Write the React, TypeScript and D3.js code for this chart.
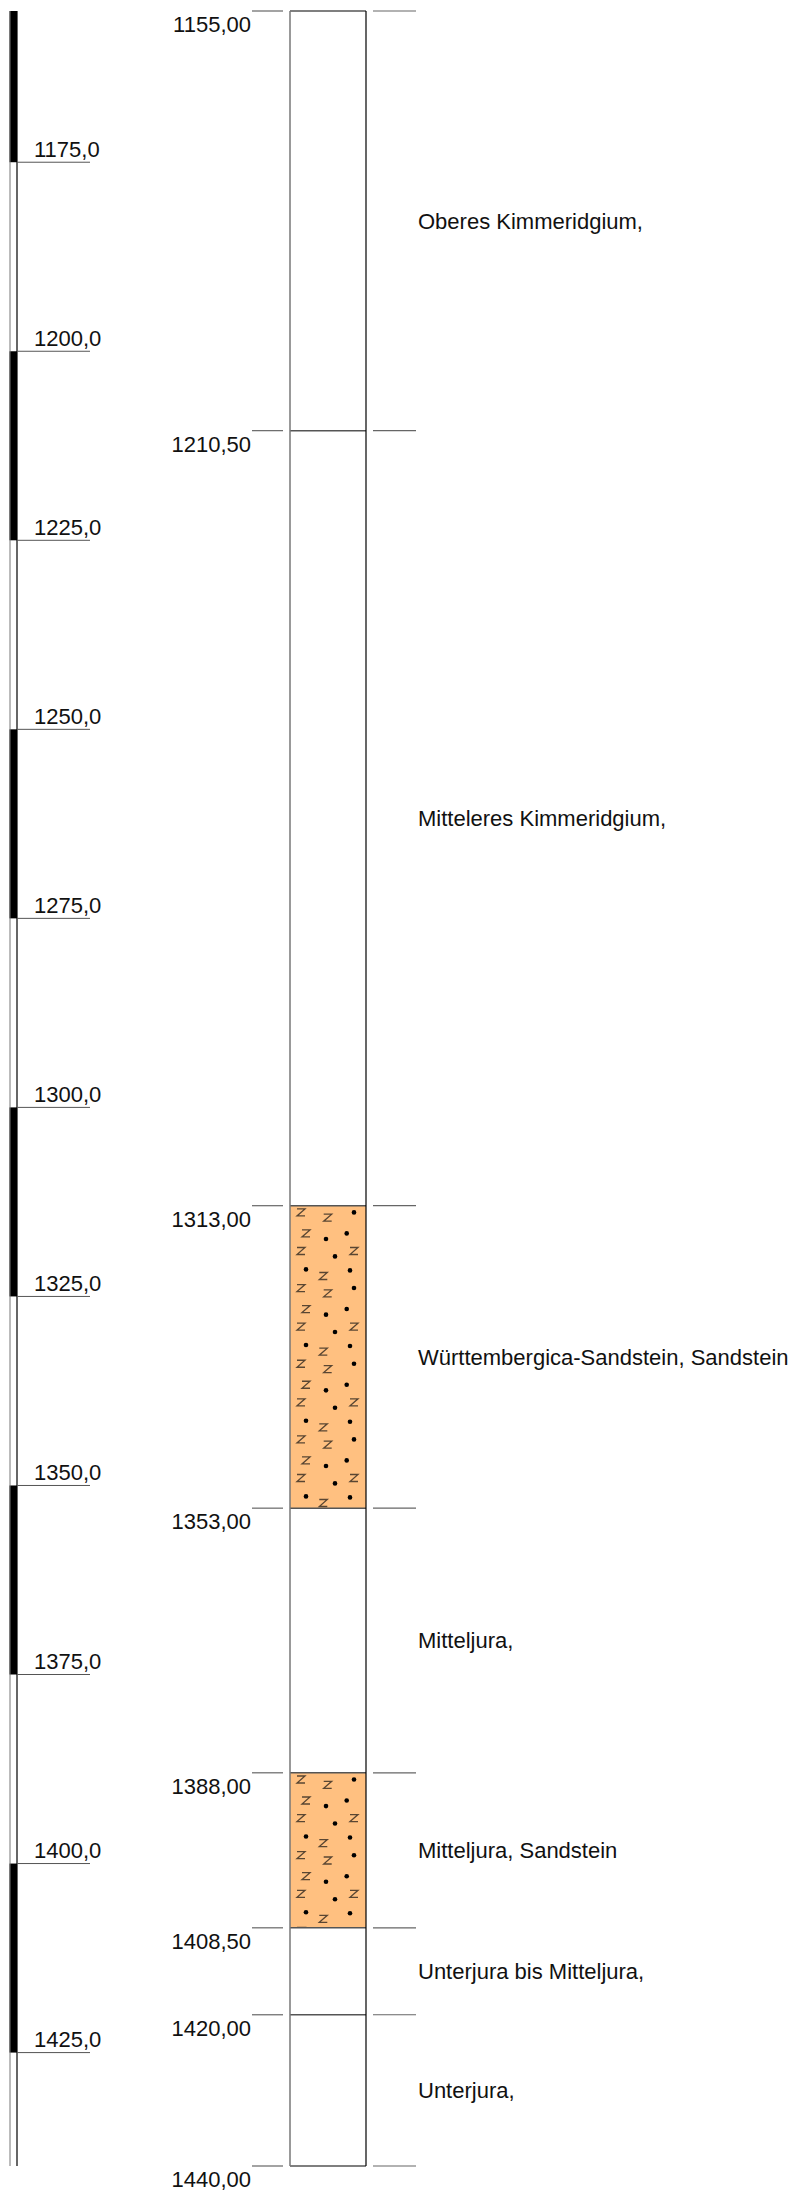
import React from "react";
import * as d3 from "d3";

const layerTops = [1155, 1210.5, 1313, 1353, 1388, 1408.5, 1420];
const layerBottoms = [1210.5, 1313, 1353, 1388, 1408.5, 1420, 1440];
const layerLabels = [
  "Oberes Kimmeridgium,",
  "Mitteleres Kimmeridgium,",
  "Württembergica-Sandstein, Sandstein",
  "Mitteljura,",
  "Mitteljura, Sandstein",
  "Unterjura bis Mitteljura,",
  "Unterjura,",
];
const layerLithology = ["none", "none", "sandstone", "none", "sandstone", "none", "none"];
const boundaryDepths = [1155, 1210.5, 1313, 1353, 1388, 1408.5, 1420, 1440];
const boundaryLabels = ["1155,00", "1210,50", "1313,00", "1353,00", "1388,00", "1408,50", "1420,00", "1440,00"];
const scaleTicks = [1175, 1200, 1225, 1250, 1275, 1300, 1325, 1350, 1375, 1400, 1425];
const scaleTickLabels = ["1175,0", "1200,0", "1225,0", "1250,0", "1275,0", "1300,0", "1325,0", "1350,0", "1375,0", "1400,0", "1425,0"];
const scaleBlackTops = [1155, 1200, 1250, 1300, 1350, 1400];
const scaleBlackBottoms = [1175, 1225, 1275, 1325, 1375, 1425];

// pattern tile symbols (relative offsets within tile)
const patternZ = [[11, 6.7], [37.7, 12], [16, 27.7], [11, 45.3], [64, 45.3], [33.3, 70.3]];
const patternDots = [[64, 6.7], [36, 33.3], [56.7, 27.7], [45, 50.7], [16, 63.7], [60, 64.7]];
const TILE_H = 75.67;

const W = 802;
const H = 2193;
const FONT = "'Liberation Sans', Arial, Helvetica, sans-serif";

export default function App() {
  const y = d3.scaleLinear().domain([1155, 1440]).range([11, 2166]);
  const colL = 290;
  const colR = 366;

  return (
    <svg
      width={W}
      height={H}
      style={{ position: "absolute", left: 0, top: 0, background: "#fff" }}
      fontFamily={FONT}
    >
      <defs>
        {layerTops.map((t, i) => (
          <clipPath id={`clip${i}`} key={i}>
            <rect x={colL} y={y(t)} width={colR - colL} height={y(layerBottoms[i]) - y(t)} />
          </clipPath>
        ))}
      </defs>

      {/* left scale bar */}
      {scaleBlackTops.map((t, i) => (
        <rect key={`b${i}`} x={9.5} y={y(t)} width={7.5} height={y(scaleBlackBottoms[i]) - y(t)} fill="#000" />
      ))}
      <line x1={10} x2={10} y1={y(1155)} y2={y(1440)} stroke="#777" strokeWidth={1} />
      <line x1={17} x2={17} y1={y(1155)} y2={y(1440)} stroke="#000" strokeWidth={1.2} />
      {scaleTicks.map((d, i) => (
        <g key={`t${i}`}>
          <line x1={17} x2={90} y1={y(d)} y2={y(d)} stroke="#555" strokeWidth={1} />
          <text x={34} y={y(d) - 5.5} fontSize={22} fill="#111">
            {scaleTickLabels[i]}
          </text>
        </g>
      ))}

      {/* layers */}
      {layerTops.map((t, i) => {
        const y0 = y(t);
        const y1 = y(layerBottoms[i]);
        const sand = layerLithology[i] === "sandstone";
        const nTiles = Math.ceil((y1 - y0) / TILE_H) + 1;
        return (
          <g key={`l${i}`}>
            <rect x={colL} y={y0} width={colR - colL} height={y1 - y0} fill={sand ? "#FFC080" : "#fff"} />
            {sand && (
              <g clipPath={`url(#clip${i})`}>
                {d3.range(nTiles).map((k) => (
                  <g key={k} transform={`translate(${colL},${y0 + k * TILE_H})`}>
                    {patternZ.map(([px, py], j) => (
                      <path
                        key={`z${j}`}
                        d={`M${px - 4},${py - 3.5}h8l-8,7h8`}
                        fill="none"
                        stroke="#5a4632"
                        strokeWidth={1.3}
                      />
                    ))}
                    {patternDots.map(([px, py], j) => (
                      <circle key={`d${j}`} cx={px} cy={py} r={2.3} fill="#000" />
                    ))}
                  </g>
                ))}
              </g>
            )}
            <text x={418} y={(y0 + y1) / 2 + 7.7} fontSize={22} fill="#111">
              {layerLabels[i]}
            </text>
          </g>
        );
      })}

      {/* boundaries */}
      {boundaryDepths.map((d, i) => (
        <g key={`bd${i}`}>
          <line x1={colL} x2={colR} y1={y(d)} y2={y(d)} stroke="#555" strokeWidth={1.5} />
          <line x1={252} x2={283} y1={y(d)} y2={y(d)} stroke="#666" strokeWidth={1.2} />
          <line x1={373} x2={416} y1={y(d)} y2={y(d)} stroke="#666" strokeWidth={1.2} />
          <text x={251} y={y(d) + 21.3} fontSize={22} textAnchor="end" fill="#111">
            {boundaryLabels[i]}
          </text>
        </g>
      ))}

      {/* column borders */}
      <line x1={colL} x2={colL} y1={y(1155)} y2={y(1440)} stroke="#777" strokeWidth={1.5} />
      <line x1={colR} x2={colR} y1={y(1155)} y2={y(1440)} stroke="#000" strokeWidth={1.2} />
    </svg>
  );
}
